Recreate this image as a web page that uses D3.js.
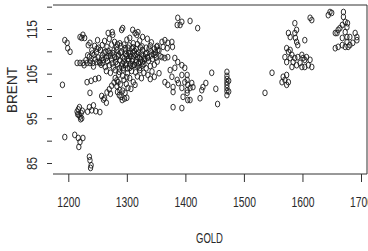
<!DOCTYPE html>
<html>
<head>
<meta charset="utf-8">
<title>GOLD vs BRENT</title>
<script src="https://cdn.jsdelivr.net/npm/d3@7"></script>
<style>
  body { margin: 0; background: #fff; }
  text { font-family: "Liberation Sans", Arial, sans-serif; fill: #2a2a2a; }
</style>
</head>
<body>
<div id="chart"></div>
<script>
// tick values
const goldTicks = [1200, 1300, 1400, 1500, 1600, 1700];
const brentTicks = [85, 90, 95, 100, 105, 110, 115, 120];
const brentLabels = [85, 95, 105, 115];

// points as [GOLD, BRENT]
const leftTop = [
  [1194,112.5],[1198,111.9],[1199,110.7],[1203,109.9],[1220,113.2],[1223,113],[1225,113.7],[1228,113],
  [1234,111.4],[1237,111.9],[1215,107.4],[1220,107.4],[1225,107.4],[1232,107.4],[1237,107.4],[1242,107.4],
  [1249,107.6],[1254,107.4],[1259,107.4],[1268,114.1],[1275,114.3],[1276,113.7]
];
const leftLow = [
  [1190,102.5],[1232,103.1],[1239,103.4],[1246,103.8],[1252,104],[1237,100.7],
  [1215,96.5],[1218,95.8],[1220,95.4],[1222,96.2],[1217,97],[1219,97.5],[1221,94.8],[1223,95],[1216,95.9],[1224,96.7],
  [1233,96.5],[1240,96.8],[1247,96.6],[1254,96.4],[1236,97.5],[1243,97.9],
  [1257,100],[1262,99.5],[1266,100.8],[1270,101.5],[1274,102.3],[1278,103],[1283,103.5],[1265,98.5],[1260,99.2],[1272,100.5],
  [1194,90.8],[1211,91.3],[1217,90.6],[1225,90.6],[1220,89.7],[1218,88.6],
  [1236,86.4],[1237,85.6],[1239,84.5],[1238,83.9]
];
const stripe = [
  [1280,104],[1285,103.1],[1283,102.2],[1288,101.3],[1287,100.2],[1290,99.8],[1297,100.7],[1302,101.8],
  [1295,103.6],[1299,102.7],[1305,104],[1311,103.1],[1314,102.5],[1307,101.6],[1292,99.1],[1300,99.6],
  [1284,100.9],[1289,102.6],[1293,101.2],[1296,99.4]
];
const mainCluster = [
  [1262,112.3],[1270,112.8],[1279,112.1],[1300,112.6],[1305,113],[1322,112.4],[1335,112.8],[1342,112],[1250,112.5],[1288,111.8],
  [1245,111.2],[1252,110.8],[1258,111.4],[1266,111],[1274,111.5],[1282,110.9],[1290,111.2],[1297,110.7],[1304,111.3],[1311,110.9],
  [1318,111.6],[1326,111.1],[1333,110.8],[1340,111.3],[1347,110.6],
  [1240,110.2],[1248,109.8],[1255,110.3],[1261,109.7],[1268,110.1],[1276,109.6],[1283,110.3],[1291,109.8],[1298,110.2],[1306,109.5],
  [1313,110.1],[1320,109.7],[1327,110.3],[1334,109.6],[1341,110],[1349,109.8],[1355,110.2],
  [1236,108.8],[1244,109.2],[1251,108.6],[1258,109.1],[1265,108.5],[1272,109],[1279,108.7],[1286,109.3],[1293,108.6],[1300,109],
  [1307,108.8],[1314,109.2],[1321,108.5],[1328,109],[1335,108.7],[1342,109.1],[1350,108.6],[1357,108.9],
  [1230,108],[1238,107.9],[1246,108.2],[1253,107.7],[1260,108.1],[1267,107.8],[1274,108.2],[1281,107.6],[1288,108],[1295,107.7],
  [1302,108.3],[1309,107.8],[1316,108.1],[1323,107.6],[1330,108.2],[1337,107.9],[1344,108.3],[1352,107.7],
  [1227,106.9],[1243,106.6],[1256,107],[1263,106.5],[1270,106.9],[1277,106.4],[1284,107.1],[1291,106.6],[1298,106.9],[1305,106.3],
  [1312,107],[1319,106.6],[1326,106.8],[1333,106.2],[1340,106.7],[1347,107],
  [1265,105.6],[1272,105.2],[1280,105.8],[1287,105.4],[1294,105.9],[1301,105.1],[1308,105.6],[1315,105.3],[1322,105.8],[1329,105.2],
  [1336,104.7],[1343,105.5],[1293,104.5],[1300,104.2],[1286,104.8],[1318,104.4],[1325,104],[1340,103.8],[1347,104.3],[1355,105.1],
  [1296,108.4],[1303,109.6],[1310,108.3],[1317,109.4],[1324,108.2],[1299,107.3],[1306,107.1],[1313,106.9],[1320,107.3],[1327,107.6],
  [1332,109.4],[1289,109.7],[1282,108.4],[1275,107.3],[1316,110.5],[1309,110.7],[1302,110.8],[1295,111.5],[1323,110.9]
];
const mainCore = [
  [1298,109.4],[1305,108.9],[1311,109.8],[1318,108.7],[1325,109.5],[1331,108.4],[1303,107.9],[1309,106.7],[1316,107.5],[1322,106.3],
  [1329,107.1],[1336,108.5],[1292,107.2],[1285,108.9],[1278,110.2],[1271,109.6],[1264,109.9],[1257,108.4],[1249,110.6],[1241,109.5],
  [1233,109.1],[1301,106.2],[1294,106.3],[1287,106.2],[1338,110.6],[1345,109.4],[1352,111.2],[1311,111.8],[1284,111.6],[1268,108.9]
];
const mainRight = [
  [1291,114.8],[1293,115.2],[1310,114.8],[1314,114.1],[1317,113.7],[1319,114.3],[1327,113.2],
  [1387,117.5],[1391,115.9],[1386,115.9],[1394,116.6],
  [1360,112.1],[1365,112.5],[1370,111.9],[1377,112.1],[1378,111],[1362,111],[1369,110.7],[1351,111],[1353,110.3],
  [1348,109.2],[1360,108.7],[1365,108.5],[1370,108.7],[1382,108.5],[1387,107.6],[1394,106.9],[1399,106.3],[1382,106.3],
  [1374,105.8],[1394,104.7],[1403,104.7],[1377,104.3],
  [1365,103.1],[1370,102.5],[1379,102],[1386,103.6],[1388,102.9],[1394,101.8],[1399,103.1],[1403,100.7],[1396,99.8],
  [1379,97.5],[1394,97.3],[1404,99.1],[1379,100.9]
];
const middle = [
  [1408,116.8],[1421,115.2],
  [1403,103.6],[1404,102.5],[1408,101.8],[1413,102],[1411,102.9],[1403,101.3],[1408,99.1],[1425,99.5],[1428,101.3],
  [1430,102],[1435,102.9],[1445,105.2],[1452,101.6],[1455,98.2],
  [1471,105.4],[1471,104.5],[1471,103.8],[1471,103.1],[1471,102.5],[1471,101.8],[1471,101.1],[1471,100.2],[1474,103.4],[1474,101],
  [1548,105.2],[1536,100.7]
];
const farRight = [
  [1570,103.6],[1567,104.3],[1573,104.7],[1565,103.1],[1576,103.1],[1573,102.5],
  [1587,116.3],[1590,114.8],[1587,114.1],[1588,113],[1590,112.1],[1592,111.4],[1576,114.1],[1579,113.2],[1604,112.5],[1613,117.5],[1616,117],
  [1573,110.7],[1576,109.9],[1579,110.3],[1582,109.2],[1570,108.7],[1573,107.6],[1587,108.5],[1592,108.7],[1599,109.2],[1601,108.5],
  [1604,108.1],[1607,108.7],[1596,107.4],[1599,106.5],[1604,106.5],[1610,106.9],[1616,106.5],[1590,106.9],[1584,107.6],[1579,108.5],
  [1582,106.5],[1613,108.1],
  [1647,118.8],[1650,118.6],[1644,118.1],[1670,118.8],[1670,117.7],[1673,116.6],[1668,115.9],[1664,115.2],[1676,115.4],[1677,116.3],
  [1661,114.8],[1659,114.1],[1656,114.1],[1673,114.3],[1681,113.2],[1690,114.1],[1693,113.2],[1693,112.5],[1676,113.2],[1668,113],
  [1656,110.7],[1661,111],[1668,111.4],[1673,111],[1678,111],[1681,111.4],[1686,111.9],[1676,112.1]
];

const points = [].concat(leftTop, leftLow, stripe, mainCluster, mainCore, mainRight, middle, farRight);

const width = 368, height = 251;
const box = { left: 53, right: 367, top: 5, bottom: 174 };

const svg = d3.select("#chart")
  .append("svg")
  .attr("width", width)
  .attr("height", height);

const x = d3.scaleLinear().domain([1200, 1700]).range([68.3, 361]);
const y = d3.scaleLinear().domain([85, 115]).range([163, 29]);

// box without the left side
svg.append("path")
  .attr("d", `M${box.left},${box.top}H${box.right}V${box.bottom}H${box.left}`)
  .attr("fill", "none")
  .attr("stroke", "#333")
  .attr("stroke-width", 1);

// x axis
const gx = svg.append("g")
  .attr("transform", `translate(0,${box.bottom})`)
  .call(d3.axisBottom(x).tickValues(goldTicks).tickSize(8).tickFormat(d3.format("d")));
gx.select(".domain").remove();
gx.selectAll(".tick line").attr("stroke", "#333");
gx.selectAll(".tick text")
  .attr("y", 33).attr("dy", 0)
  .attr("font-size", 14)
  .attr("textLength", 23)
  .attr("lengthAdjust", "spacingAndGlyphs")
  .attr("font-family", "Liberation Sans, Arial, sans-serif")
  .attr("fill", "#2a2a2a");

// y axis
const gy = svg.append("g")
  .attr("transform", `translate(52,0)`)
  .call(d3.axisLeft(y).tickValues(brentTicks).tickSize(5)
    .tickFormat(d => brentLabels.includes(d) ? d : ""));
gy.select(".domain").remove();
gy.selectAll(".tick line").attr("stroke", "#333");
gy.selectAll(".tick text")
  .attr("x", 0).attr("y", -15).attr("dy", 0)
  .attr("transform", "rotate(-90)")
  .attr("text-anchor", "middle")
  .attr("font-size", 14)
  .attr("font-family", "Liberation Sans, Arial, sans-serif")
  .attr("fill", "#2a2a2a")
  .each(function (d) {
    if (brentLabels.includes(d)) {
      d3.select(this).attr("textLength", String(d).length === 3 ? 19 : 13)
        .attr("lengthAdjust", "spacingAndGlyphs");
    }
  });

// points
svg.append("g")
  .selectAll("ellipse")
  .data(points)
  .enter()
  .append("ellipse")
  .attr("cx", d => x(d[0]))
  .attr("cy", d => y(d[1]))
  .attr("rx", 2.2)
  .attr("ry", 2.9)
  .attr("fill", "none")
  .attr("stroke", "#1a1a1a")
  .attr("stroke-width", 0.9);

// axis titles
svg.append("text")
  .attr("x", 209.5)
  .attr("y", 243)
  .attr("text-anchor", "middle")
  .attr("font-size", 15)
  .attr("textLength", 27)
  .attr("lengthAdjust", "spacingAndGlyphs")
  .text("GOLD");

svg.append("text")
  .attr("transform", "translate(17,90) rotate(-90)")
  .attr("text-anchor", "middle")
  .attr("font-size", 14)
  .attr("textLength", 46)
  .attr("lengthAdjust", "spacingAndGlyphs")
  .text("BRENT");
</script>
</body>
</html>
